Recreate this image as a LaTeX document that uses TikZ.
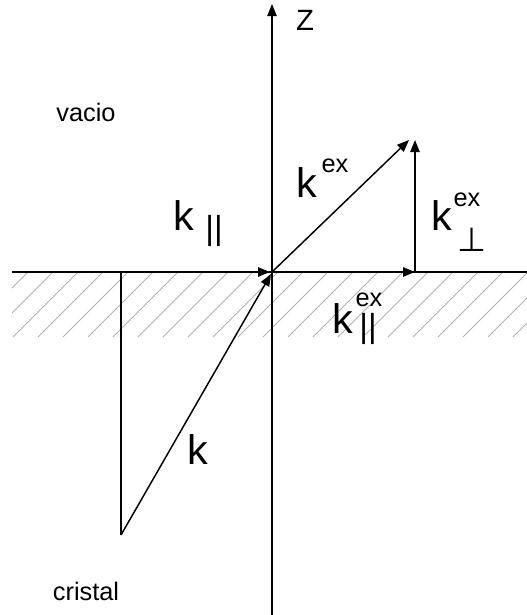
\documentclass[tikz,border=0pt]{standalone}
\usepackage{fontspec}
\setmainfont{Liberation Sans}
\newfontfamily\symfont{DejaVu Sans}
\usetikzlibrary{arrows.meta}

\begin{document}
\begin{tikzpicture}[x=0.75pt,y=-0.75pt]
    \tikzset{vec/.style={-{Triangle[length=9pt,width=7pt]},line width=1.1pt}}
    \tikzset{plain/.style={line width=1.1pt}}
    \tikzset{hatch/.style={gray!60,line width=0.7pt}}
    \tikzset{big/.style={inner sep=0pt,font=\fontsize{31}{31}\selectfont}}
    \tikzset{sup/.style={inner sep=0pt,font=\fontsize{19}{19}\selectfont}}
    \tikzset{bars/.style={inner sep=0pt,font=\fontsize{25}{25}\selectfont}}
    \tikzset{txt/.style={inner sep=0pt,font=\fontsize{19}{19}\selectfont}}

    \useasboundingbox (0,0) rectangle (527,615);

    % hatching of the crystal
    \begin{scope}
        \clip (12,273) rectangle (527,337);
        \foreach \x in {-62,-37,...,527}
            \draw[hatch] (\x,337) -- ++(70,-70);
    \end{scope}

    \coordinate (O) at (272,272);
    \coordinate (ztop) at (272,4);
    \coordinate (zbot) at (272,615);
    \coordinate (sl) at (12,272);
    \coordinate (sr) at (527,272);
    \coordinate (A) at (121,272);
    \coordinate (B) at (121,535);
    \coordinate (Ok) at (271,274);
    \coordinate (Od) at (270,272);
    \coordinate (E) at (409,140);
    \coordinate (P) at (415,140);
    \coordinate (F) at (415,272);

    \draw[plain] (sl) -- (sr);
    \draw[vec] (zbot) -- (ztop);
    \draw[vec,dash pattern=on 7.5pt off 3.75pt] (A) -- (Od);
    \draw[plain] (A) -- (B);
    \draw[vec] (B) -- (Ok);
    \draw[vec] (O) -- (E);
    \draw[vec] (O) -- (F);
    \draw[vec] (F) -- (P);

    \node[txt] (zl) at (305,20) {\fontsize{22}{22}\selectfont Z};
    \node[txt] (vac) at (86,112) {vacio};
    \node[txt] (cri) at (86,591) {cristal};

    \node[big] (kpar) at (184,216) {k};
    \node[bars] (kparsub) at (214,231) {||};

    \node[big] (kex) at (307,183) {k};
    \node[sup] (kexsup) at (335,166) {ex};

    \node[big] (kperp) at (442,216) {k};
    \node[sup] (kperpsup) at (467,200) {ex};
    \node[bars] (kperpsub) at (472,240) {\symfont ⊥};

    \node[big] (kpx) at (343,319) {k};
    \node[sup] (kpxsup) at (369,300) {ex};
    \node[bars] (kpxsub) at (368,329) {||};

    \node[big] (kin) at (198,450) {k};
\end{tikzpicture}
\end{document}
